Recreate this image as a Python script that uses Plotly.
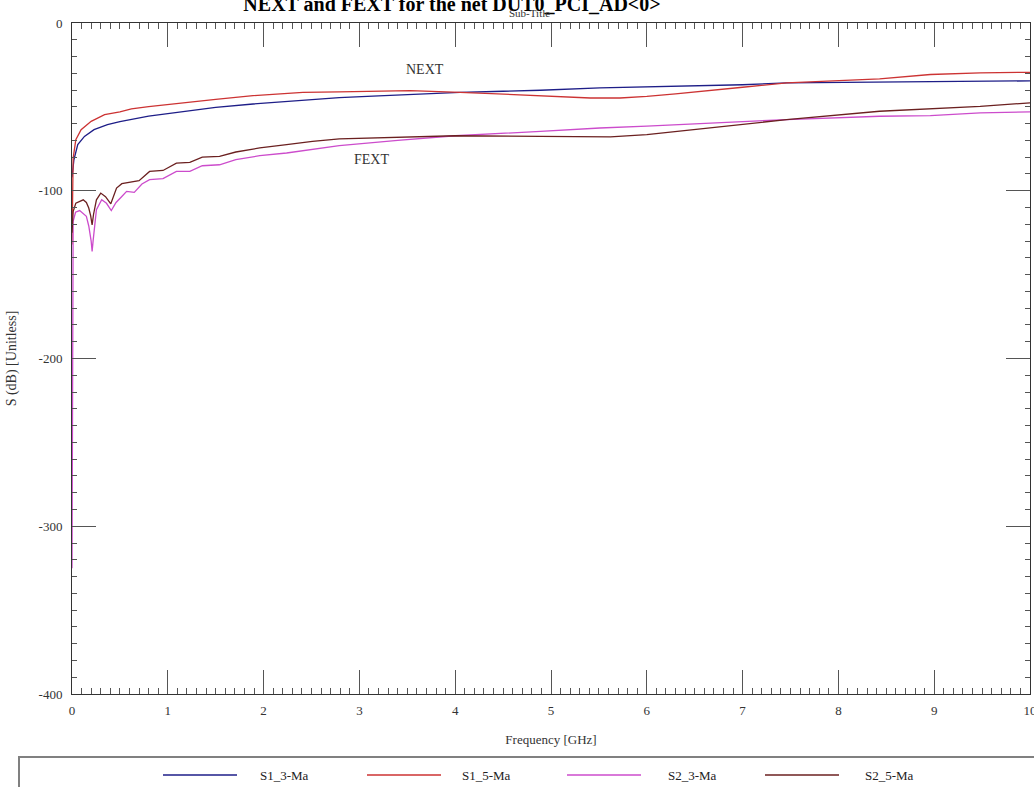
import plotly.graph_objects as go

# ---------------- data ----------------
freq_s13 = [0, 0.01, 0.02, 0.06, 0.13, 0.23, 0.37, 0.5, 0.62, 0.8, 1.0, 1.19, 1.5, 1.89, 2.41, 2.79,
            3.2, 3.6, 4.05, 4.5, 4.89, 5.51, 6.0, 6.56, 7.0, 7.46, 8.0, 8.43, 9.0, 9.5, 10]
s13 = [-92, -86, -81.5, -72.5, -67.6, -63.6, -60.6, -58.8, -57.4, -55.5, -54, -52.6, -50.3, -48.3, -46.1,
       -44.5, -43.5, -42.5, -41.3, -40.7, -40.1, -38.7, -38.2, -37.3, -36.8, -35.7, -35.5, -35.3, -35,
       -34.7, -34.5]

freq_s15 = [0, 0.005, 0.012, 0.04, 0.095, 0.2, 0.34, 0.5, 0.62, 0.8, 1.0, 1.19, 1.5, 1.89, 2.41, 2.79,
            3.2, 3.53, 4.05, 4.5, 4.89, 5.2, 5.41, 5.72, 6.0, 6.3, 6.56, 7.0, 7.46, 8.0, 8.43, 8.96,
            9.48, 10]
s15 = [-132, -95, -80.5, -69.6, -63.6, -58.6, -54.6, -53, -51.2, -49.8, -48.5, -47.3, -45.5, -43.3,
       -41.3, -41.1, -40.6, -40.3, -41.3, -42.5, -43.7, -44.3, -44.7, -44.7, -43.8, -42.3, -40.7,
       -38.3, -35.7, -34.2, -33.3, -30.7, -29.7, -29.4]

freq_s23 = [0, 0.005, 0.012, 0.037, 0.08, 0.15, 0.175, 0.2, 0.21, 0.22, 0.235, 0.255, 0.31, 0.36,
            0.41, 0.46, 0.52, 0.57, 0.65, 0.73, 0.81, 0.95, 1.09, 1.23, 1.36, 1.54, 1.71, 1.96,
            2.24, 2.51, 2.79, 3.4, 4.0, 4.89, 5.51, 6.0, 6.56, 7.46, 8.43, 8.96, 9.48, 10]
s23 = [-325, -125, -118.2, -112.8, -111.8, -115.2, -121, -130, -136.2, -130, -120, -111.3, -105.4,
       -107.5, -111.8, -107, -103.4, -100.4, -101, -96, -93.4, -92.8, -88.5, -88.5, -85.1, -84.5,
       -81.5, -79.1, -77.5, -75.5, -73.1, -70, -67.2, -64.6, -62.6, -61.5, -60, -57.6, -55.6,
       -55.2, -53.6, -53]

freq_s25 = [0, 0.005, 0.012, 0.04, 0.117, 0.15, 0.175, 0.195, 0.21, 0.225, 0.255, 0.30, 0.35, 0.405,
            0.465, 0.52, 0.62, 0.7, 0.81, 0.95, 1.09, 1.23, 1.36, 1.54, 1.71, 1.96, 2.24, 2.51,
            2.79, 3.4, 4.0, 4.89, 5.62, 6.0, 6.56, 7.46, 8.43, 8.96, 9.48, 10]
s25 = [-125, -118, -112.4, -107.4, -105.4, -107, -110.3, -115, -120.3, -114, -105.4, -101.4, -103.5,
       -107.8, -98.4, -95.8, -95, -94, -88.5, -87.9, -83.5, -83.1, -79.9, -79.5, -76.9, -74.5,
       -72.5, -70.6, -69.1, -68, -67.2, -67.6, -67.9, -66.5, -63.2, -57.6, -52.6, -51, -49.7,
       -47.6]

series_names = ["S1_3-Ma", "S1_5-Ma", "S2_3-Ma", "S2_5-Ma"]
series_colors = ["#1e1e88", "#cc3333", "#cc4ccc", "#6b2020"]

x_major_ticks = list(range(0, 11))
x_tick_text = [str(v) for v in x_major_ticks]
x_medium_ticks = [0.5, 1.5, 2.5, 3.5, 4.5, 5.5, 6.5, 7.5, 8.5, 9.5]
y_major_ticks = [-400, -300, -200, -100, 0]
y_tick_text = ["-400", "-300", "-200", "-100", "0"]
y_medium_ticks = [-350, -250, -150, -50]

title_text = "NEXT and FEXT for the net DUT0_PCI_AD<0>"
subtitle_text = "Sub-Title"
x_title = "Frequency [GHz]"
y_title = "S (dB) [Unitless]"

SERIF = "Liberation Serif, Times New Roman, serif"
W, H = 1034, 787
ML, MR, MT, MB = 72, 4, 23, 93
PW, PH = W - ML - MR, H - MT - MB


def px_to_paper_x(px):
    return (px - ML) / PW


def px_to_paper_y(py):
    return (H - MB - py) / PH


fig = go.Figure()
all_x = [freq_s13, freq_s15, freq_s23, freq_s25]
all_y = [s13, s15, s23, s25]
for xs, ys, name, col in zip(all_x, all_y, series_names, series_colors):
    fig.add_trace(go.Scatter(x=xs, y=ys, mode="lines", name=name,
                             line=dict(color=col, width=1.3), showlegend=False))

tick_col = "#555555"
axis_font = dict(family=SERIF, size=13, color="#333333")

fig.update_layout(
    width=W, height=H,
    margin=dict(l=ML, r=MR, t=MT, b=MB, autoexpand=False),
    paper_bgcolor="white", plot_bgcolor="white",
    showlegend=False,
    title=dict(text="<b>" + title_text.replace("<", "&lt;").replace(">", "&gt;") + "</b>",
               x=452 / W, xanchor="center", xref="container",
               y=1 - 4 / H, yanchor="middle", yref="container",
               font=dict(family=SERIF, size=20, color="#000000")),
    xaxis=dict(range=[0, 10], tickvals=x_major_ticks, ticktext=x_tick_text, ticks="inside",
               ticklen=24, tickwidth=1, tickcolor=tick_col, showline=True, linecolor="#333333",
               linewidth=1, mirror="ticks", showgrid=False, zeroline=False, tickfont=axis_font,
               automargin=False, ticklabelstandoff=4, ticklabeloverflow="allow",
               minor=dict(dtick=0.1, tick0=0, ticks="inside", ticklen=6, tickcolor=tick_col,
                          showgrid=False),
               title=dict(text=x_title, font=axis_font, standoff=18)),
    yaxis=dict(range=[-400, 0], tickvals=y_major_ticks, ticktext=y_tick_text, ticks="inside",
               ticklen=24, tickwidth=1, tickcolor=tick_col, showline=True, linecolor="#333333",
               linewidth=1, mirror="ticks", showgrid=False, zeroline=False, tickfont=axis_font,
               automargin=False, ticklabelstandoff=6, ticklabeloverflow="allow",
               minor=dict(dtick=10, tick0=0, ticks="inside", ticklen=5, tickcolor=tick_col,
                          showgrid=False),
               title=dict(text=y_title, font=dict(family=SERIF, size=14, color="#333333"),
                          standoff=18)),
    xaxis2=dict(range=[0, 10], overlaying="x", anchor="y", side="bottom", tickvals=x_medium_ticks,
                ticks="inside", ticklen=12, tickcolor=tick_col, mirror="ticks", showline=False,
                showticklabels=False, showgrid=False, zeroline=False, automargin=False),
    yaxis2=dict(range=[-400, 0], overlaying="y", anchor="x", side="left", tickvals=y_medium_ticks,
                ticks="inside", ticklen=12, tickcolor=tick_col, mirror="ticks", showline=False,
                showticklabels=False, showgrid=False, zeroline=False, automargin=False),
)

# text annotations in the plot
fig.add_annotation(x=3.68, y=-27.8, text="NEXT", showarrow=False,
                   font=dict(family=SERIF, size=14, color="#333333"))
fig.add_annotation(x=3.13, y=-81.5, text="FEXT", showarrow=False,
                   font=dict(family=SERIF, size=14, color="#333333"))
fig.add_annotation(x=px_to_paper_x(529), y=px_to_paper_y(13), xref="paper", yref="paper",
                   text=subtitle_text, showarrow=False, xanchor="center", yanchor="middle",
                   font=dict(family=SERIF, size=11, color="#333333"))

# legend (drawn as a boxed row beneath the plot)
fig.add_shape(type="rect", xref="paper", yref="paper",
              x0=px_to_paper_x(19), x1=px_to_paper_x(1045),
              y0=px_to_paper_y(805), y1=px_to_paper_y(757),
              line=dict(color="#808080", width=2), fillcolor="rgba(0,0,0,0)")
leg_line_x0 = [163, 367, 567, 765]
leg_line_len = 74
leg_text_x = [258, 460, 666, 863]
leg_y = 775
for name, col, lx, tx in zip(series_names, series_colors, leg_line_x0, leg_text_x):
    fig.add_shape(type="line", xref="paper", yref="paper",
                  x0=px_to_paper_x(lx), x1=px_to_paper_x(lx + leg_line_len),
                  y0=px_to_paper_y(leg_y), y1=px_to_paper_y(leg_y),
                  line=dict(color=col, width=1.3))
    fig.add_annotation(x=px_to_paper_x(tx), y=px_to_paper_y(leg_y), xref="paper", yref="paper",
                       text=name, showarrow=False, xanchor="left", yanchor="middle",
                       font=dict(family=SERIF, size=13, color="#222222"))

fig.write_html("out.html")
